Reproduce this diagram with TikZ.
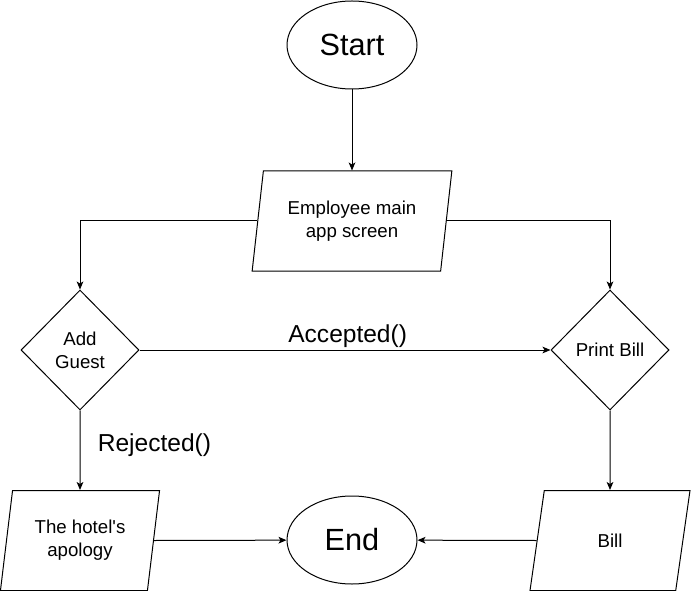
\documentclass[tikz,border=0pt]{standalone}
\usepackage{fontspec}
\setmainfont{Liberation Sans}
\usetikzlibrary{arrows.meta, positioning, shapes.geometric}

\begin{document}
\begin{tikzpicture}[x=0.75pt, y=-0.75pt, line width=0.75pt,
  >={Stealth[length=6pt,width=5pt,inset=1.5pt]},
  term/.style={draw, ellipse, minimum width=97.5pt, minimum height=66pt, inner sep=0pt, font=\fontsize{23}{27}\selectfont},
  io/.style={draw, trapezium, trapezium left angle=78.7, trapezium right angle=101.3, trapezium stretches=true, minimum height=75pt, inner sep=0pt, align=center, font=\fontsize{14}{17.5}\selectfont},
  decision/.style={draw, diamond, minimum width=88.5pt, minimum height=90pt, inner sep=0pt, align=center, font=\fontsize{14}{17.5}\selectfont},
  lbl/.style={inner sep=0pt, font=\fontsize{18.4}{22}\selectfont}]

\useasboundingbox (0,0) rectangle (691,591);

\node[term] (Start) at (352,45) {Start};
\node[io, minimum width=150pt] (Screen) at (352,221) {Employee main\\app screen};
\node[decision] (Add) at (80,350) {Add\\Guest};
\node[decision] (Print) at (610,350) {Print Bill};
\node[io, minimum width=120pt] (Apology) at (80,540.5) {The hotel\textquotesingle s\\apology};
\node[term] (End) at (352,540) {End};
\node[io, minimum width=120pt] (Bill) at (610,540.5) {Bill};

\draw[->] (Start) -- (Screen);
\draw[->] (Screen.left side) -| (Add);
\draw[->] (Screen.right side) -| (Print);
\draw[->] (Add) -- node[lbl, midway, anchor=base, xshift=2pt, yshift=6pt] {Accepted()} (Print);
\draw[->] (Add) -- node[lbl, midway, anchor=base west, xshift=13pt, yshift=-0.75pt] {Rejected()} (Apology);
\draw[->] (Print) -- (Bill);
\draw[->] (Apology.right side) -- (End);
\draw[->] (Bill.left side) -- (End);

\end{tikzpicture}
\end{document}
